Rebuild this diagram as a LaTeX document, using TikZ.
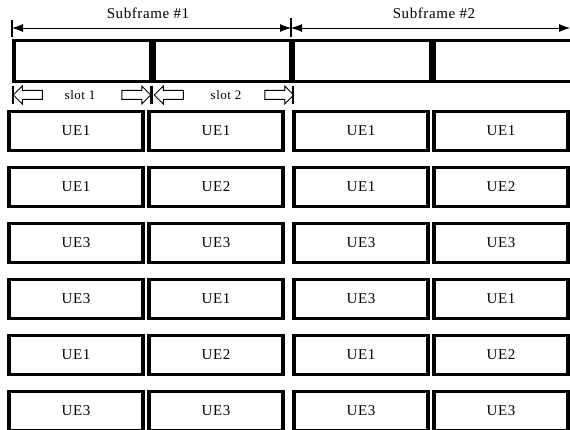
\documentclass[tikz,border=0pt]{standalone}
\usepackage{fontspec}
\setmainfont{Liberation Serif}
\newfontfamily\labelfont[LetterSpace=4]{Liberation Serif}
\usetikzlibrary{arrows.meta,shapes.arrows}

\begin{document}
\begin{tikzpicture}[x=1pt,y=-1pt,
  uebox/.style={draw,line width=3.5pt,minimum width=134pt,minimum height=39pt,inner sep=0pt,
    font=\labelfont\fontsize{15}{17}\selectfont},
  slotarrow/.style={single arrow,draw,line width=1pt,minimum height=29pt,inner sep=4pt,
    single arrow head extend=4.5pt},
  slottext/.style={font=\labelfont\fontsize{13}{15}\selectfont},
  dimline/.style={line width=0.8pt,{Latex[length=11pt,width=8pt]}-{Latex[length=11pt,width=8pt]}}]
  \useasboundingbox (0,0) rectangle (570,430);

  \coordinate (sf0) at (12,28);
  \coordinate (sf1) at (291,28);
  \coordinate (sf2) at (570,28);
  \draw[line width=1.2pt] (12,20) -- (12,37) (291,18) -- (291,37);
  \draw[dimline] (sf0) -- (sf1);
  \draw[dimline] (sf1) -- (sf2);
  \node[font=\labelfont\fontsize{15}{17}\selectfont] (sf1lab) at (148,13) {Subframe \#1};
  \node[font=\labelfont\fontsize{15}{17}\selectfont] (sf2lab) at (434,13) {Subframe \#2};

  \draw[line width=3pt] (12,40.5) -- (572,40.5) (12,82) -- (572,82);
  \draw[line width=4pt] (14,39) -- (14,83.5);
  \draw[line width=7pt] (152,39) -- (152,83.5);
  \draw[line width=6pt] (292,39) -- (292,83.5);
  \draw[line width=7pt] (432,39) -- (432,83.5);

  \draw[line width=2.5pt] (13,86) -- (13,104);
  \draw[line width=3pt] (151.5,86) -- (151.5,104);
  \draw[line width=2pt] (292.5,86) -- (292.5,104);
  \node[slotarrow,shape border rotate=180] (s1l) at (30,95) {};
  \node[slottext] (s1t) at (80,95) {slot 1};
  \node[slotarrow] (s1r) at (134,95) {};
  \node[slotarrow,shape border rotate=180] (s2l) at (171,95) {};
  \node[slottext] (s2t) at (226,95) {slot 2};
  \node[slotarrow] (s2r) at (277,95) {};

  \foreach \a/\b/\c/\d [count=\r] in {UE1/UE1/UE1/UE1, UE1/UE2/UE1/UE2, UE3/UE3/UE3/UE3,
      UE3/UE1/UE3/UE1, UE1/UE2/UE1/UE2, UE3/UE3/UE3/UE3} {
    \node[uebox] (ue\r a) at (76,75+56*\r) {\a};
    \node[uebox] (ue\r b) at (216,75+56*\r) {\b};
    \node[uebox] (ue\r c) at (361,75+56*\r) {\c};
    \node[uebox] (ue\r d) at (501,75+56*\r) {\d};
  }
\end{tikzpicture}
\end{document}
